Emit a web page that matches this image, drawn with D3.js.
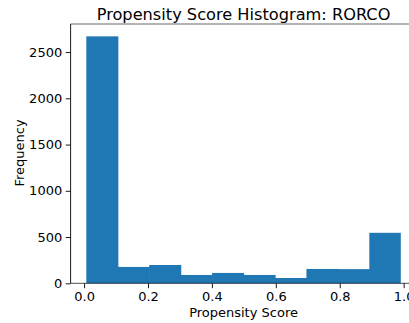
<!DOCTYPE html>
<html><head><meta charset="utf-8">
<script src="https://cdn.jsdelivr.net/npm/d3@7"></script>
<style>body{margin:0;background:#fff}svg text{font-family:"DejaVu Sans",sans-serif}</style>
</head><body><svg id="c" width="409" height="323"></svg>
<script>
const binEdges = [0.007,0.1054,0.2038,0.3022,0.4006,0.499,0.5974,0.6958,0.7942,0.8926,0.991];
const counts = [2670,177,198,90,112,90,57,155,153,546];
const xTicks = [0.0,0.2,0.4,0.6,0.8,1.0];
const yTicks = [0,500,1000,1500,2000,2500];
const title = "Propensity Score Histogram: RORCO";
const xLabel = "Propensity Score", yLabel = "Frequency";
(function(){
const svg = d3.select("#c");
const pL = 70.6, pR = 416.5, pT = 24, pB = 283.3;
const lo = binEdges[0], hi = binEdges[binEdges.length-1], m = (hi-lo)*0.05;
const x = d3.scaleLinear().domain([lo-m, hi+m]).range([pL, pR]);
const y = d3.scaleLinear().domain([0, d3.max(counts)*1.05]).range([pB, pT]);

const bins = counts.map((c,i)=>({x0:binEdges[i], x1:binEdges[i+1], c}));
svg.append("g").selectAll("rect").data(bins).join("rect")
  .attr("x", d=>x(d.x0)).attr("width", (d,i)=>x(d.x1)-x(d.x0)+(i<bins.length-1?0.6:0))
  .attr("y", d=>y(d.c)).attr("height", d=>pB-y(d.c))
  .attr("fill","#1f77b4");

svg.append("line").attr("x1",pL).attr("x2",pL).attr("y1",pT).attr("y2",pB).attr("stroke","#000").attr("stroke-width",0.9);
svg.append("line").attr("x1",pL).attr("x2",pR).attr("y1",pB).attr("y2",pB).attr("stroke","#000").attr("stroke-opacity",0.55).attr("stroke-width",1.3);
svg.append("line").attr("x1",pL).attr("x2",pR).attr("y1",pT).attr("y2",pT).attr("stroke","#000").attr("stroke-opacity",0.6).attr("stroke-width",1);

const xa = d3.axisBottom(x).tickValues(xTicks).tickFormat(d3.format(".1f")).tickSize(4.9).tickPadding(3.5);
const gx = svg.append("g").attr("transform",`translate(0,${pB})`).call(xa);
gx.select(".domain").remove();
gx.selectAll("line").attr("stroke","#000").attr("stroke-width",0.9);
gx.selectAll("text").attr("font-size",13).attr("fill","#000").attr("font-family","DejaVu Sans");

const ya = d3.axisLeft(y).tickValues(yTicks).tickFormat(d3.format("d")).tickSize(4.9).tickPadding(3.5);
const gy = svg.append("g").attr("transform",`translate(${pL},0)`).call(ya);
gy.select(".domain").remove();
gy.selectAll("line").attr("stroke","#000").attr("stroke-width",0.9);
gy.selectAll("text").attr("font-size",13).attr("fill","#000").attr("font-family","DejaVu Sans");

svg.append("text").attr("x",(pL+pR)/2).attr("y",19.5).attr("text-anchor","middle").attr("font-size",16.2).text(title);
svg.append("text").attr("x",(pL+pR)/2).attr("y",316.5).attr("text-anchor","middle").attr("font-size",13).text(xLabel);
svg.append("text").attr("transform","translate(24,153) rotate(-90)").attr("text-anchor","middle").attr("font-size",13).text(yLabel);
})();
</script></body></html>
